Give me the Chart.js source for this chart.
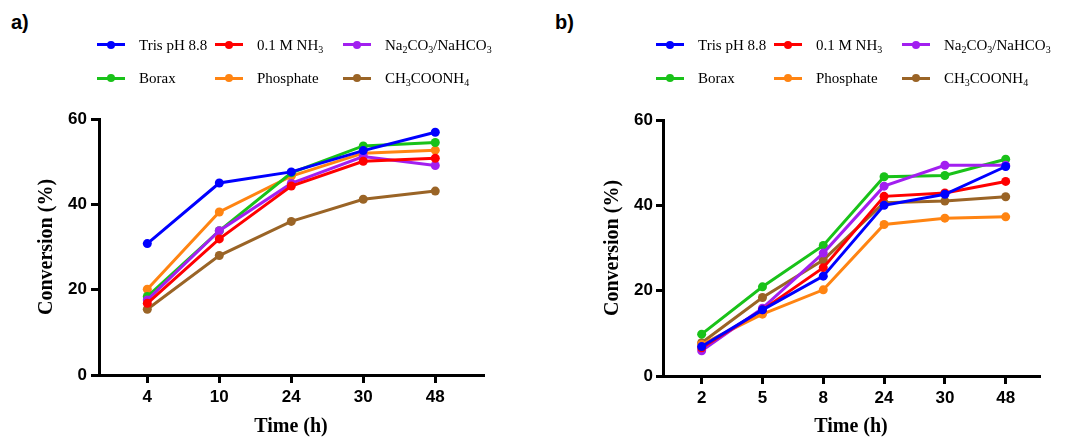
<!DOCTYPE html>
<html>
<head>
<meta charset="utf-8">
<script src="https://cdn.jsdelivr.net/npm/chart.js@4.4.1/dist/chart.umd.min.js"></script>
<style>
  html, body { margin: 0; padding: 0; background: #fff; }
  body { width: 1067px; height: 439px; position: relative; overflow: hidden; }
  .panel { position: absolute; top: 0; height: 439px; }
  .panel canvas { position: absolute; left: 0; top: 0; }
  .tag { position: absolute; font: bold 20px "Liberation Sans", Arial, sans-serif; line-height: 20px; color: #000; }
  .item { position: absolute; height: 20px; display: flex; align-items: center;
          font: 15px "Liberation Serif", "Times New Roman", serif; line-height: 20px; color: #000; white-space: nowrap; }
  .key { position: relative; width: 28px; height: 3px; margin-right: 14px; }
  .key i { position: absolute; left: 10px; top: -2.5px; width: 8px; height: 8px; border-radius: 50%; }
  .item sub { font-size: 10px; line-height: 0; vertical-align: -3px; }
</style>
</head>
<body>
<div class="tag" style="left:11px; top:12px;">a)</div>
<div class="tag" style="left:555px; top:12px;">b)</div>
<div class="panel" id="panelA" style="left:0; width:533px;"><canvas id="chartA" width="533" height="439"></canvas></div>
<div class="panel" id="panelB" style="left:533px; width:534px;"><canvas id="chartB" width="534" height="439"></canvas></div>
<div id="legends"></div>

<script>
// Buffers compared in both experiments (legend order)
const seriesNames = ['Tris pH 8.8', '0.1 M NH₃', 'Na₂CO₃/NaHCO₃', 'Borax', 'Phosphate', 'CH₃COONH₄'];
const seriesColors = ['#0000ff', '#ff0000', '#a21ff0', '#19c219', '#ff8412', '#9a6426'];

// Conversion axis ticks (%)
const yTicks = [0, 20, 40, 60];

// a) sampling times (h) and conversions (%)
const timesA = ['4', '10', '24', '30', '48'];
const trisA  = [30.8, 45.0, 47.6, 52.6, 56.9];
const nh3A   = [16.8, 31.9, 44.3, 50.1, 50.8];
const carbA  = [17.6, 33.8, 44.9, 51.2, 49.1];
const boraxA = [18.4, 33.8, 47.4, 53.7, 54.5];
const phosA  = [20.1, 38.2, 46.6, 52.0, 52.7];
const acetA  = [15.4, 28.0, 36.0, 41.2, 43.1];

// b) sampling times (h) and conversions (%)
const timesB = ['2', '5', '8', '24', '30', '48'];
const trisB  = [6.9, 15.5, 23.4, 40.0, 42.6, 49.1];
const nh3B   = [6.6, 15.5, 25.4, 42.1, 42.9, 45.6];
const carbB  = [5.9, 15.9, 28.8, 44.5, 49.4, 49.4];
const boraxB = [9.8, 20.9, 30.6, 46.7, 47.0, 50.8];
const phosB  = [7.4, 14.5, 20.2, 35.5, 37.0, 37.3];
const acetB  = [7.8, 18.4, 27.2, 40.6, 41.0, 42.0];

const tickFont  = { family: '"Liberation Sans", Arial, sans-serif', size: 17, weight: 'bold' };
const titleFont = { family: '"Liberation Serif", "Times New Roman", serif', size: 20, weight: 'bold' };

function axisLook(tickLength) {
  return {
    grid: { display: true, drawOnChartArea: false, drawTicks: true, tickLength: tickLength,
            color: '#000', lineWidth: 3, tickWidth: 3, tickColor: '#000' },
    border: { display: true, color: '#000', width: 3 }
  };
}

function makePanel(canvasId, times, seriesValues, g) {
  const datasets = seriesValues.map((vals, i) => ({
    label: seriesNames[i],
    data: vals.map((v, k) => ({ x: k, y: v })),
    borderColor: seriesColors[i],
    backgroundColor: seriesColors[i],
    pointBackgroundColor: seriesColors[i],
    pointBorderWidth: 0,
    pointRadius: 4.5,
    pointHoverRadius: 4.5,
    borderWidth: 3,
    tension: 0
  }));

  return new Chart(document.getElementById(canvasId), {
    type: 'line',
    data: { datasets },
    options: {
      responsive: false,
      animation: false,
      devicePixelRatio: 1,
      layout: { padding: g.padding },
      plugins: { legend: { display: false }, tooltip: { enabled: false } },
      scales: {
        x: Object.assign({
          type: 'linear',
          min: g.xMin,
          max: g.xMax,
          afterBuildTicks: s => { s.ticks = times.map((_, i) => ({ value: i })); },
          afterFit: s => { s.height = g.xHeight; },
          ticks: { callback: v => times[v], font: tickFont, color: '#000', padding: 4,
                   autoSkip: false, maxRotation: 0 },
          title: { display: true, text: 'Time (h)', font: titleFont, color: '#000',
                   padding: { top: 0, bottom: g.xTitlePad } }
        }, axisLook(8)),
        y: Object.assign({
          type: 'linear',
          min: yTicks[0],
          max: yTicks[yTicks.length - 1],
          afterBuildTicks: s => { s.ticks = yTicks.map(v => ({ value: v })); },
          afterFit: s => { s.width = g.yWidth; },
          ticks: { font: tickFont, color: '#000', padding: g.yPad },
          title: { display: true, text: 'Conversion (%)', font: titleFont, color: '#000',
                   padding: { top: g.yTitlePad, bottom: 0 } }
        }, axisLook(g.yTick))
      }
    }
  });
}

// Legend with chemical subscripts, built from each chart's datasets
const legendCols = [0, 118, 246];
const legendRows = [44.5, 78];
const subDigits = '₀₁₂₃₄₅₆₇₈₉';

function appendLabel(el, text) {
  let plain = '';
  for (const ch of text) {
    const d = subDigits.indexOf(ch);
    if (d >= 0) {
      if (plain) { el.appendChild(document.createTextNode(plain)); plain = ''; }
      const s = document.createElement('sub');
      s.textContent = String(d);
      el.appendChild(s);
    } else {
      plain += ch;
    }
  }
  if (plain) el.appendChild(document.createTextNode(plain));
}

function buildLegend(chart, left) {
  const host = document.getElementById('legends');
  chart.data.datasets.forEach((ds, i) => {
    const item = document.createElement('div');
    item.className = 'item';
    item.style.left = (left + legendCols[i % 3]) + 'px';
    item.style.top = (legendRows[Math.floor(i / 3)] - 10) + 'px';
    const key = document.createElement('span');
    key.className = 'key';
    key.style.background = ds.borderColor;
    const dot = document.createElement('i');
    dot.style.background = ds.borderColor;
    key.appendChild(dot);
    const txt = document.createElement('span');
    appendLabel(txt, ds.label);
    item.appendChild(key);
    item.appendChild(txt);
    host.appendChild(item);
  });
}

const chartA = makePanel('chartA', timesA, [trisA, nh3A, carbA, boraxA, phosA, acetA], {
  padding: { left: 0, top: 119, right: 50, bottom: 0 },
  yWidth: 99, xHeight: 64, xMin: -0.671, xMax: 4.663,
  yTick: 8, yPad: 4, yTitlePad: 35, xTitlePad: 0
});
const chartB = makePanel('chartB', timesB, [trisB, nh3B, carbB, boraxB, phosB, acetB], {
  padding: { left: 0, top: 120, right: 28, bottom: 0 },
  yWidth: 130, xHeight: 63, xMin: -0.636, xMax: 5.548,
  yTick: 7, yPad: 3, yTitlePad: 68, xTitlePad: 0
});

buildLegend(chartA, 97);
buildLegend(chartB, 656);
</script>
</body>
</html>
